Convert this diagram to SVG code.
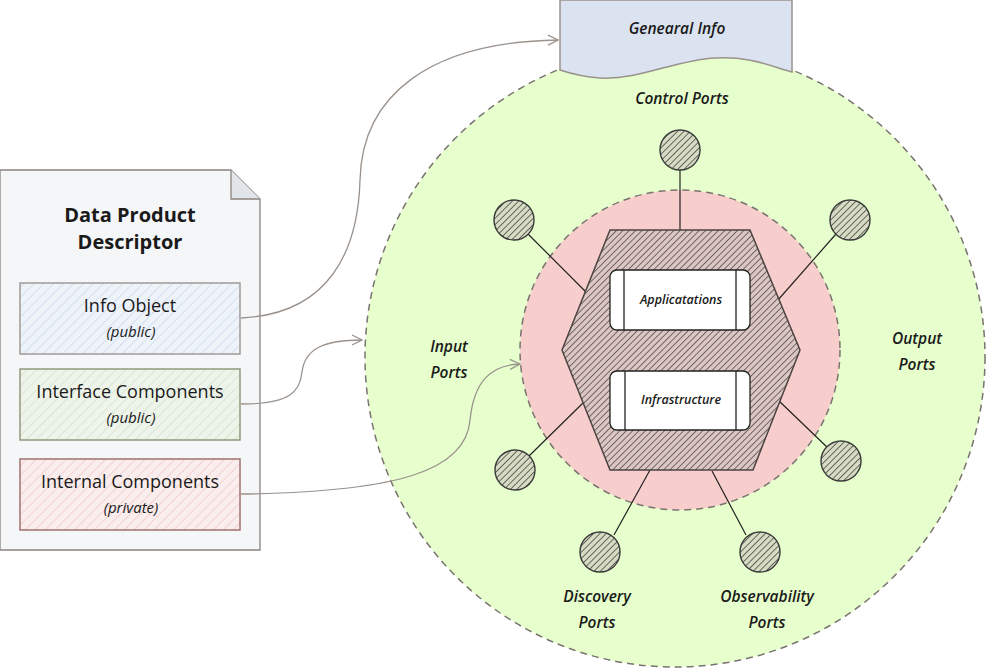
<svg xmlns="http://www.w3.org/2000/svg" width="987" height="669" viewBox="0 0 987 669">
<defs>
<style>
.hand{font-family:"Open Sans","DejaVu Sans",sans-serif;font-style:italic;font-weight:600;fill:#1a1a1a;text-anchor:middle}
.note{font-family:"Open Sans","DejaVu Sans",sans-serif;font-style:italic;font-weight:400;fill:#1a1a1a;text-anchor:middle}
.plain{font-family:"Open Sans","Liberation Sans",sans-serif;fill:#1a1a1a;text-anchor:middle}
.conn{fill:none;stroke:#9a928c;stroke-width:1.3}
.spoke{stroke:#222;stroke-width:1.2}
.port{fill:url(#hPort);stroke:#3a3a3a;stroke-width:1.4}
.comp{fill:#ffffff;stroke:#222;stroke-width:1.3}
</style>
<pattern id="hHex" width="4.5" height="4.5" patternUnits="userSpaceOnUse" patternTransform="rotate(45)">
<rect width="4.5" height="4.5" fill="#dcc6c4"/>
<line x1="0" y1="0" x2="0" y2="4.5" stroke="#5e5652" stroke-width="1.7"/>
</pattern>
<pattern id="hPort" width="4.5" height="4.5" patternUnits="userSpaceOnUse" patternTransform="rotate(45)">
<rect width="4.5" height="4.5" fill="#d6dcc4"/>
<line x1="0" y1="0" x2="0" y2="4.5" stroke="#5c5a52" stroke-width="1.8"/>
</pattern>
<pattern id="hBlue" width="7" height="7" patternUnits="userSpaceOnUse" patternTransform="rotate(45)">
<rect width="7" height="7" fill="#eef3f9"/>
<line x1="0" y1="0" x2="0" y2="7" stroke="#ccd9ec" stroke-width="1.5"/>
</pattern>
<pattern id="hGreen" width="7" height="7" patternUnits="userSpaceOnUse" patternTransform="rotate(45)">
<rect width="7" height="7" fill="#eff4eb"/>
<line x1="0" y1="0" x2="0" y2="7" stroke="#d0e2ca" stroke-width="1.5"/>
</pattern>
<pattern id="hRed" width="7" height="7" patternUnits="userSpaceOnUse" patternTransform="rotate(45)">
<rect width="7" height="7" fill="#f9eded"/>
<line x1="0" y1="0" x2="0" y2="7" stroke="#f1cac8" stroke-width="1.5"/>
</pattern>
<marker id="arr" viewBox="0 0 12 12" refX="11" refY="6" markerWidth="12" markerHeight="12" markerUnits="userSpaceOnUse" orient="auto">
<path d="M1,1 L11,6 L1,11" fill="none" stroke="#9a928c" stroke-width="1.3"/>
</marker>
</defs>

<g id="outer-circle">
<circle cx="675" cy="357" r="310" fill="#e6ffcc" stroke="#7a7370" stroke-width="1.5" stroke-dasharray="7 5"/>
</g>
<g id="inner-circle">
<circle cx="680" cy="350" r="160" fill="#f8cecc" stroke="#7a7370" stroke-width="1.5" stroke-dasharray="7 5"/>
</g>

<g id="spokes">
<line class="spoke" x1="680" y1="170" x2="680" y2="230"/>
<line class="spoke" x1="528" y1="234" x2="586" y2="292"/>
<line class="spoke" x1="836" y1="234" x2="778" y2="300"/>
<line class="spoke" x1="529" y1="456" x2="583" y2="403"/>
<line class="spoke" x1="829" y1="449" x2="778" y2="400"/>
<line class="spoke" x1="614" y1="535" x2="650" y2="470"/>
<line class="spoke" x1="746" y1="535" x2="712" y2="471"/>
</g>

<g id="hexagon">
<polygon points="610,230 750,230 800,350 753,470 610,470 562,350" fill="url(#hHex)" stroke="#4a4442" stroke-width="1.5"/>
</g>

<g id="applications">
<rect class="comp" x="610" y="270" width="140" height="60" rx="7"/>
<line x1="624" y1="270" x2="624" y2="330" stroke="#222" stroke-width="1.3"/>
<line x1="736" y1="270" x2="736" y2="330" stroke="#222" stroke-width="1.3"/>
<text class="hand" x="681" y="304" font-size="12.5">Applicatations</text>
</g>
<g id="infrastructure">
<rect class="comp" x="610" y="371" width="140" height="59" rx="7"/>
<line x1="625" y1="371" x2="625" y2="430" stroke="#222" stroke-width="1.3"/>
<line x1="736" y1="371" x2="736" y2="430" stroke="#222" stroke-width="1.3"/>
<text class="hand" x="681" y="404" font-size="12.5">Infrastructure</text>
</g>

<g id="port-control"><circle class="port" cx="680" cy="150" r="20"/></g>
<g id="port-input-top"><circle class="port" cx="514" cy="220" r="20"/></g>
<g id="port-output-top"><circle class="port" cx="850" cy="220" r="20"/></g>
<g id="port-input-bottom"><circle class="port" cx="515" cy="470" r="20"/></g>
<g id="port-output-bottom"><circle class="port" cx="841" cy="461" r="20"/></g>
<g id="port-discovery"><circle class="port" cx="600" cy="552" r="20"/></g>
<g id="port-observability"><circle class="port" cx="760" cy="552" r="20"/></g>

<g id="labels">
<text class="hand" x="682" y="104" font-size="15.5">Control Ports</text>
<text class="hand" x="449" y="352" font-size="15.5">Input</text>
<text class="hand" x="449" y="378" font-size="15.5">Ports</text>
<text class="hand" x="917" y="344" font-size="15.5">Output</text>
<text class="hand" x="917" y="370" font-size="15.5">Ports</text>
<text class="hand" x="597" y="602" font-size="15.5">Discovery</text>
<text class="hand" x="597" y="628" font-size="15.5">Ports</text>
<text class="hand" x="767" y="602" font-size="15.5">Observability</text>
<text class="hand" x="767" y="628" font-size="15.5">Ports</text>
</g>

<g id="general-info">
<path d="M560,0 L792,0 L792,72 C770,66 750,56 715,58 C675,60 640,80 600,78 C585,77 572,74 560,70 Z" fill="#dae3ef" stroke="#9a928c" stroke-width="1.5"/>
<text class="hand" x="677" y="34" font-size="15.5">Genearal Info</text>
</g>

<g id="descriptor">
<path d="M0,170 L231,170 L260,199 L260,550 L0,550 Z" fill="#f5f6f8" stroke="#8a8480" stroke-width="1.3"/>
<path d="M231,170 L231,199 L260,199" fill="#e1e4e8" stroke="#8a8480" stroke-width="1.3"/>
<text class="plain" x="130" y="222" font-size="20" font-weight="bold">Data Product</text>
<text class="plain" x="130" y="249" font-size="20" font-weight="bold">Descriptor</text>
</g>

<g id="info-object">
<rect x="20" y="283" width="220" height="71" fill="url(#hBlue)" stroke="#a09a96" stroke-width="1.5"/>
<text class="plain" x="130" y="312" font-size="18">Info Object</text>
<text class="note" x="131" y="337" font-size="15">(public)</text>
</g>
<g id="interface-components">
<rect x="20" y="369" width="220" height="71" fill="url(#hGreen)" stroke="#8e9a7c" stroke-width="1.5"/>
<text class="plain" x="130" y="398" font-size="18">Interface Components</text>
<text class="note" x="131" y="423" font-size="15">(public)</text>
</g>
<g id="internal-components">
<rect x="20" y="459" width="220" height="71" fill="url(#hRed)" stroke="#a07070" stroke-width="1.5"/>
<text class="plain" x="130" y="488" font-size="18">Internal Components</text>
<text class="note" x="131" y="513" font-size="15">(private)</text>
</g>

<g id="connectors">
<path class="conn" d="M241,318 C330,314 358,250 360,180 C362,95 430,42 558,40" marker-end="url(#arr)"/>
<path class="conn" d="M241,404 C290,404 300,392 302,372 C305,348 325,340 362,340" marker-end="url(#arr)"/>
<path class="conn" d="M241,494 C400,492 466,470 470,420 C474,382 490,365 520,364" marker-end="url(#arr)"/>
</g>
</svg>
